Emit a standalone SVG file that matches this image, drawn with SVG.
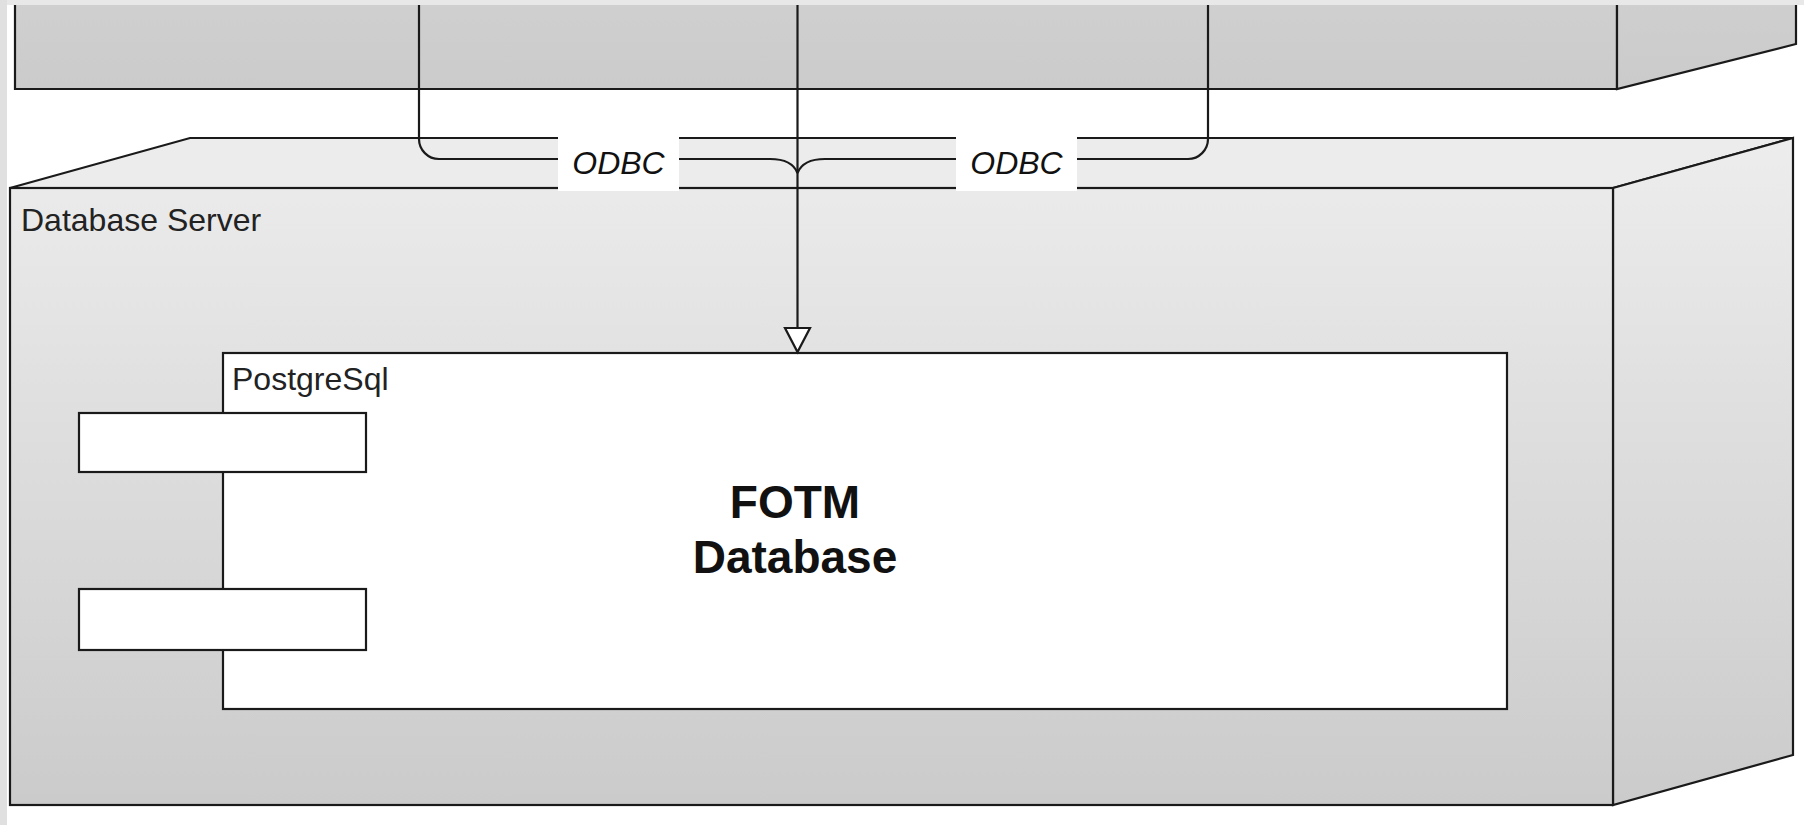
<svg xmlns="http://www.w3.org/2000/svg" width="1804" height="825" viewBox="0 0 1804 825">
<style>
.edge{fill:none;stroke:#1a1a1a;stroke-width:2.2;stroke-linejoin:miter}
.box{stroke:#1a1a1a;stroke-width:2.2}
.lbl{font-family:"Liberation Sans",Arial,sans-serif;font-size:32px;fill:#222}
.odbc{font-family:"Liberation Sans",Arial,sans-serif;font-size:32px;font-style:italic;fill:#111;text-anchor:middle}
.big{font-family:"Liberation Sans",Arial,sans-serif;font-size:46px;font-weight:bold;fill:#111;text-anchor:middle}
</style>
<defs>
<linearGradient id="gTop" x1="0" y1="0" x2="0" y2="1">
<stop offset="0" stop-color="#d6d6d6"/>
<stop offset="1" stop-color="#cbcbcb"/>
</linearGradient>
<linearGradient id="gDb" gradientUnits="userSpaceOnUse" x1="0" y1="138" x2="0" y2="805">
<stop offset="0" stop-color="#ededed"/>
<stop offset="1" stop-color="#cbcbcb"/>
</linearGradient>
</defs>
<rect x="0" y="0" width="1804" height="825" fill="#ffffff"/>

<g id="client-node">
<polygon class="box" fill="url(#gTop)" points="15,-120 15,89 1617,89 1617,-120"/>
<polygon class="box" fill="url(#gTop)" points="1617,-120 1796,-170 1796,44 1617,89"/>
</g>

<g id="database-server">
<polygon class="box" fill="#ececec" points="10,188 190,138 1793,138 1613,188"/>
<polygon class="box" fill="url(#gDb)" points="1613,188 1793,138 1793,755 1613,805"/>
<rect class="box" fill="url(#gDb)" x="10" y="188" width="1603" height="617"/>
<text class="lbl" x="21" y="231">Database Server</text>
</g>

<g id="postgresql">
<rect class="box" fill="#ffffff" x="223" y="353" width="1284" height="356"/>
<rect class="box" fill="#ffffff" x="79" y="413" width="287" height="59"/>
<rect class="box" fill="#ffffff" x="79" y="589" width="287" height="61"/>
<text class="lbl" x="232" y="390">PostgreSql</text>
<text class="big" x="795" y="518">FOTM</text>
<text class="big" x="795" y="573">Database</text>
</g>

<g id="connectors">
<path class="edge" d="M797.5,0 V329"/>
<polygon fill="#ffffff" stroke="#1a1a1a" stroke-width="2.2" points="785,328 810,328 797.5,352"/>
<path class="edge" d="M419,0 V139 A20,20 0 0 0 439,159 H770 Q792,159 797.5,173"/>
<path class="edge" d="M1208,0 V139 A20,20 0 0 1 1188,159 H825 Q803,159 797.5,173"/>
<rect x="558" y="135" width="121" height="56" fill="#ffffff"/>
<text class="odbc" x="618.5" y="174">ODBC</text>
<rect x="956" y="135" width="121" height="56" fill="#ffffff"/>
<text class="odbc" x="1016.5" y="174">ODBC</text>
</g>

<rect x="0" y="0" width="1804" height="5" fill="#e8e8e8"/>
<rect x="0" y="0" width="7" height="825" fill="#e0e0e0"/>
</svg>
